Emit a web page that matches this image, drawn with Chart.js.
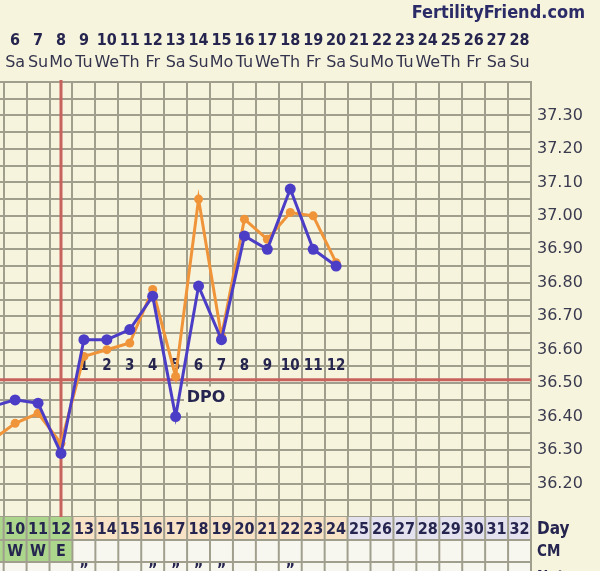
<!DOCTYPE html>
<html>
<head>
<meta charset="utf-8">
<script src="https://cdn.jsdelivr.net/npm/chart.js@4.4.0/dist/chart.umd.min.js"></script>
<style>
html, body { margin: 0; padding: 0; background: #f7f4dd; }
#wrap { width: 600px; height: 571px; position: relative; }
</style>
</head>
<body>
<div id="wrap"><canvas id="bbtChart"></canvas></div>
<script>
// cycle days that carry a temperature
const cycleDays = [9, 10, 11, 12, 13, 14, 15, 16, 17, 18, 19, 20, 21, 22, 23, 24];
const tempsBlue = [36.43, 36.45, 36.44, 36.29, 36.63, 36.63, 36.66, 36.76, 36.40, 36.79, 36.63, 36.94, 36.90, 37.08, 36.90, 36.85];
const tempsOrange = [36.33, 36.38, 36.41, 36.32, 36.58, 36.60, 36.62, 36.78, 36.52, 37.05, 36.64, 36.99, 36.93, 37.01, 37.00, 36.86];

// columns of the grid (cycle days) and their header labels
const gridDays = [9, 10, 11, 12, 13, 14, 15, 16, 17, 18, 19, 20, 21, 22, 23, 24, 25, 26, 27, 28, 29, 30, 31, 32];
const dateNumbers = [5, 6, 7, 8, 9, 10, 11, 12, 13, 14, 15, 16, 17, 18, 19, 20, 21, 22, 23, 24, 25, 26, 27, 28];
const weekdays = ["Fr", "Sa", "Su", "Mo", "Tu", "We", "Th", "Fr", "Sa", "Su", "Mo", "Tu", "We", "Th", "Fr", "Sa", "Su", "Mo", "Tu", "We", "Th", "Fr", "Sa", "Su"];

const ovulationDay = 12;
const coverLine = 36.51;
const dpoDays = [13, 14, 15, 16, 17, 18, 19, 20, 21, 22, 23, 24];
const dpoLabels = ["1", "2", "3", "4", "5", "6", "7", "8", "9", "10", "11", "12"];
const cmDays = [9, 10, 11, 12];
const cmValues = ["W", "W", "W", "E"];
const noteDays = [13, 16, 17, 18, 19, 22];

const BG = "#f7f4dd";
const GRID = "#a09f8e";
const RED = "#c8625c";
const NAVY = "#25254f";
const BLUE = "#4b3dc6";
const ORANGE = "#f0943a";
const COND = "'DejaVu Sans Condensed', 'DejaVu Sans', sans-serif";

function toPoints(days, temps) {
    return days.map((d, i) => ({ x: d, y: temps[i] }));
}

function dayColor(d) {
    if (d <= 12) return "#abd68c";
    if (d <= 24) return "#f8e3c7";
    return "#e4e2ee";
}

const chartDecor = {
    id: "chartDecor",
    beforeDraw(chart) {
        const ctx = chart.ctx;
        ctx.save();
        ctx.fillStyle = BG;
        ctx.fillRect(0, 0, chart.width, chart.height);
        ctx.restore();
    },
    beforeDatasetsDraw(chart) {
        const { ctx, chartArea: a, scales: { x, y } } = chart;
        ctx.save();
        // box behind DPO
        ctx.fillStyle = BG;
        ctx.fillRect(184, y.getPixelForValue(36.49), 46, 26);

        ctx.strokeStyle = RED;
        ctx.lineWidth = 3;
        const ox = x.getPixelForValue(ovulationDay);
        ctx.beginPath();
        ctx.moveTo(ox, a.top - 2);
        ctx.lineTo(ox, a.bottom);
        ctx.stroke();
        const cy = y.getPixelForValue(coverLine);
        ctx.beginPath();
        ctx.moveTo(a.left, cy);
        ctx.lineTo(a.right, cy);
        ctx.stroke();

        ctx.fillStyle = NAVY;
        ctx.font = "bold 15px " + COND;
        ctx.textAlign = "center";
        ctx.textBaseline = "middle";
        dpoDays.forEach((d, i) => {
            ctx.fillText(dpoLabels[i], x.getPixelForValue(d), y.getPixelForValue(36.55));
        });
        ctx.font = "bold 16px 'DejaVu Sans', sans-serif";
        ctx.fillText("DPO", 206, y.getPixelForValue(36.455));
        ctx.restore();
    },
    afterDraw(chart) {
        const { ctx, chartArea: a, scales: { x } } = chart;
        ctx.save();
        ctx.textAlign = "center";
        ctx.textBaseline = "middle";

        // header
        ctx.fillStyle = "#2b2b68";
        ctx.font = "bold 18px " + COND;
        ctx.textAlign = "right";
        ctx.fillText("FertilityFriend.com", 585, 13);
        ctx.textAlign = "center";
        gridDays.forEach((d, i) => {
            const cx = x.getPixelForValue(d);
            ctx.fillStyle = NAVY;
            ctx.font = "bold 16px " + COND;
            ctx.fillText(String(dateNumbers[i]), cx, 41);
            ctx.fillStyle = "#34344e";
            ctx.font = "16px 'DejaVu Sans', sans-serif";
            ctx.fillText(weekdays[i], cx, 63);
        });

        // table rows
        const r0 = a.bottom, r1 = a.bottom + 23, r2 = a.bottom + 45, r3 = chart.height + 10;
        gridDays.forEach(d => {
            const x0 = x.getPixelForValue(d - 0.5), x1 = x.getPixelForValue(d + 0.5);
            ctx.fillStyle = dayColor(d);
            ctx.fillRect(x0, r0, x1 - x0, r1 - r0);
            ctx.fillStyle = cmDays.includes(d) ? "#abd68c" : "#f8f7ef";
            ctx.fillRect(x0, r1, x1 - x0, r2 - r1);
            ctx.fillStyle = "#f8f7ef";
            ctx.fillRect(x0, r2, x1 - x0, r3 - r2);
        });
        ctx.strokeStyle = GRID;
        ctx.lineWidth = 2;
        gridDays.forEach(d => {
            const bx = x.getPixelForValue(d + 0.5);
            ctx.beginPath();
            ctx.moveTo(bx, r0);
            ctx.lineTo(bx, r3);
            ctx.stroke();
        });
        [r1, r2].forEach(ry => {
            ctx.beginPath();
            ctx.moveTo(a.left, ry);
            ctx.lineTo(a.right, ry);
            ctx.stroke();
        });

        ctx.fillStyle = NAVY;
        ctx.font = "bold 16px " + COND;
        gridDays.forEach(d => {
            ctx.fillText(String(d), x.getPixelForValue(d), (r0 + r1) / 2 + 1);
        });
        cmDays.forEach((d, i) => {
            ctx.fillText(cmValues[i], x.getPixelForValue(d), (r1 + r2) / 2 + 1);
        });
        noteDays.forEach(d => {
            ctx.fillText("\u201D", x.getPixelForValue(d), r2 + 9);
        });

        ctx.textAlign = "left";
        ctx.font = "bold 17px " + COND;
        ctx.fillText("Day", a.right + 6, (r0 + r1) / 2 + 1);
        ctx.font = "bold 15px " + COND;
        ctx.fillText("CM", a.right + 6, (r1 + r2) / 2 + 1);
        ctx.fillText("Notes", a.right + 6, r2 + 16);
        ctx.restore();
    }
};

new Chart(document.getElementById("bbtChart"), {
    type: "line",
    data: {
        datasets: [{
            label: "Temp",
            data: toPoints(cycleDays, tempsBlue),
            borderColor: BLUE,
            backgroundColor: BLUE,
            borderWidth: 3,
            pointRadius: 5.5,
            pointBorderWidth: 0,
            tension: 0,
            order: 0
        }, {
            label: "Temp 2",
            data: toPoints(cycleDays, tempsOrange),
            borderColor: ORANGE,
            backgroundColor: ORANGE,
            borderWidth: 3,
            pointRadius: 4.5,
            pointBorderWidth: 0,
            tension: 0,
            order: 1
        }]
    },
    options: {
        responsive: true,
        maintainAspectRatio: false,
        animation: false,
        layout: { autoPadding: false, padding: { top: 82, bottom: 54, left: 0, right: 0 } },
        plugins: { legend: { display: false }, tooltip: { enabled: false } },
        scales: {
            x: {
                type: "linear",
                min: 9.34,
                max: 32.5,
                afterBuildTicks(scale) {
                    scale.ticks = gridDays.map(d => ({ value: d + 0.5 }));
                },
                afterFit(scale) { scale.height = 0; },
                ticks: { display: false },
                grid: { color: GRID, lineWidth: 2, drawTicks: false },
                border: { display: false }
            },
            y: {
                position: "right",
                min: 36.10,
                max: 37.40,
                afterBuildTicks(scale) {
                    const t = [];
                    for (let i = 0; i <= 26; i++) t.push({ value: 36.10 + i * 0.05 });
                    scale.ticks = t;
                },
                afterFit(scale) { scale.width = 69; },
                ticks: {
                    autoSkip: false,
                    padding: 6,
                    color: "#3b3b50",
                    font: { family: "'DejaVu Sans', sans-serif", size: 16 },
                    callback(v) {
                        const c = Math.round(v * 100);
                        return (c % 10 === 0 && c >= 3620 && c <= 3730) ? (c / 100).toFixed(2) : "";
                    }
                },
                grid: { color: GRID, lineWidth: 2, drawTicks: false },
                border: { display: true, color: GRID, width: 2 }
            }
        }
    },
    plugins: [chartDecor]
});
</script>
</body>
</html>
